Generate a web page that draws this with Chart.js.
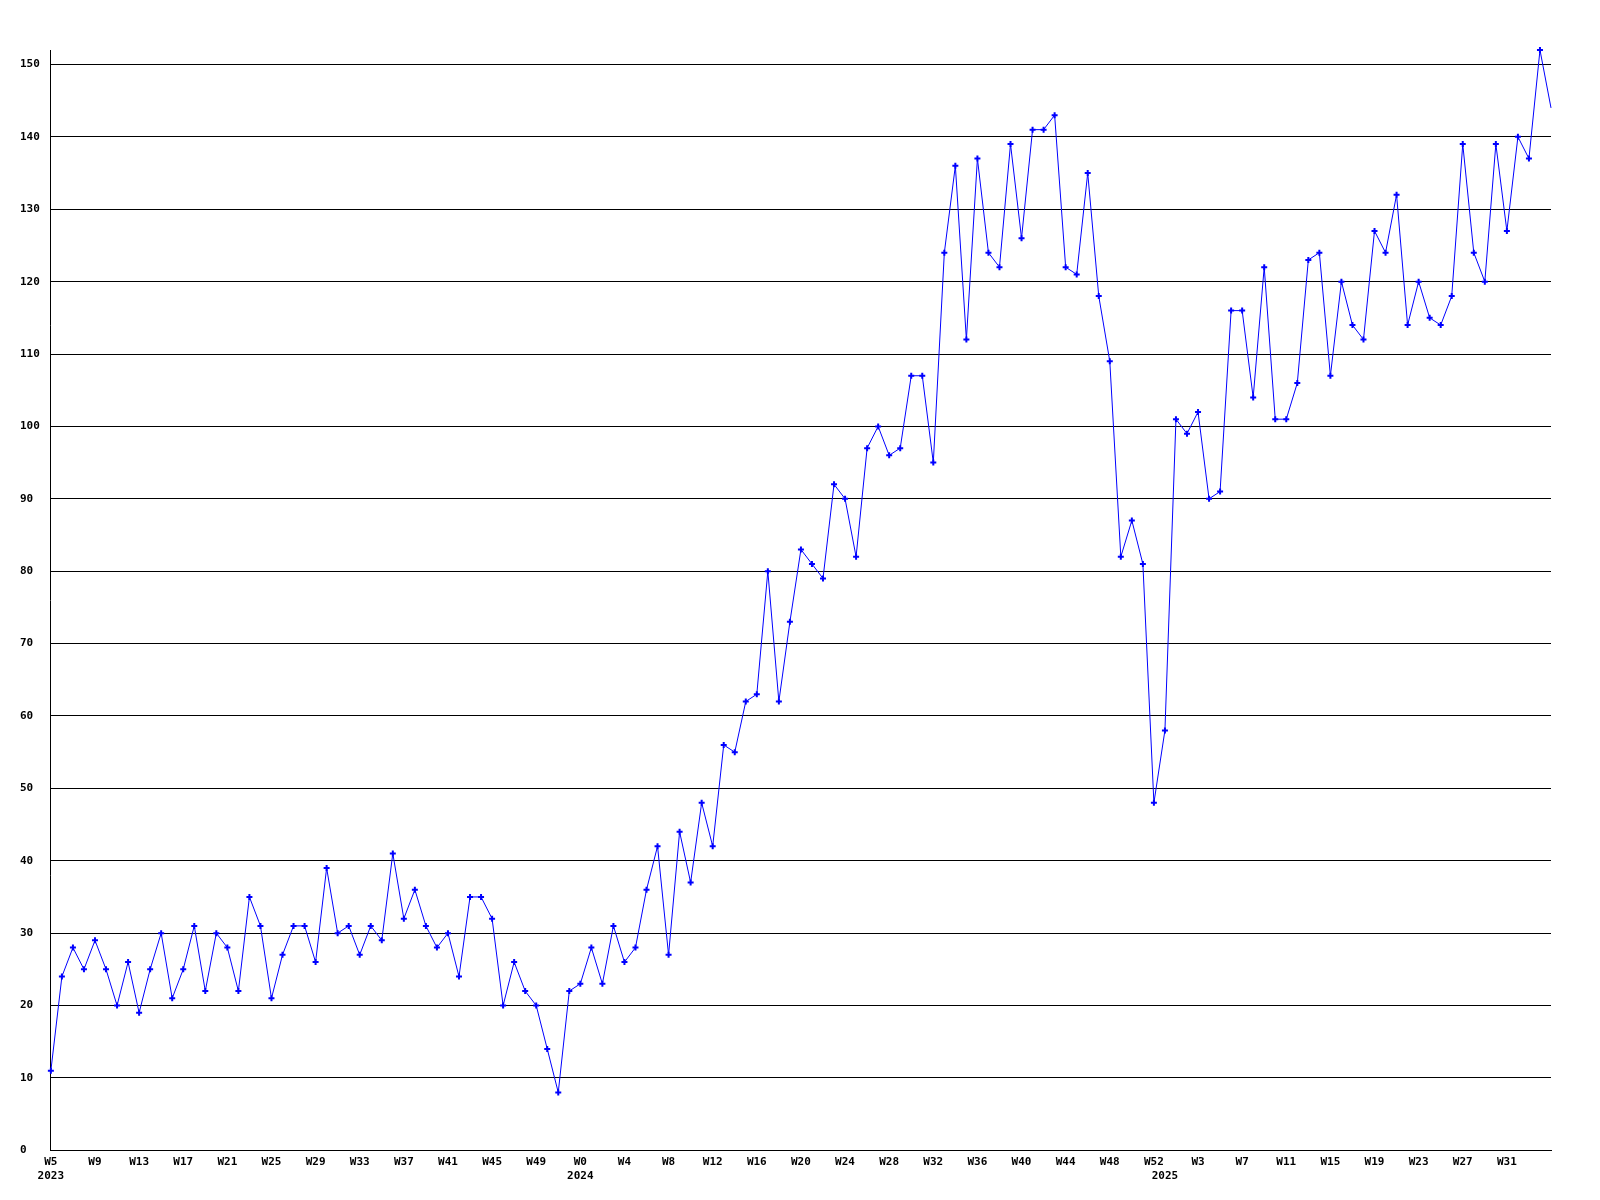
<!DOCTYPE html>
<html>
<head>
<meta charset="utf-8">
<script src="https://cdn.jsdelivr.net/npm/chart.js@4.4.1/dist/chart.umd.min.js"></script>
<style>
    html, body { margin: 0; padding: 0; background: #fff; }
    #box { width: 1600px; height: 1200px; }
</style>
</head>
<body>
<div id="box"><canvas id="chart"></canvas></div>
<script>
// year, first week, last week shown on the axis
const yearSpans = [[2023, 5, 52], [2024, 0, 52], [2025, 0, 35]];

const counts = [
    11, 24, 28, 25, 29, 25, 20, 26, 19, 25, 30, 21, 25, 31, 22, 30, 28, 22, 35, 31,
    21, 27, 31, 31, 26, 39, 30, 31, 27, 31, 29, 41, 32, 36, 31, 28, 30, 24, 35, 35,
    32, 20, 26, 22, 20, 14, 8, 22, 23, 28, 23, 31, 26, 28, 36, 42, 27, 44, 37, 48,
    42, 56, 55, 62, 63, 80, 62, 73, 83, 81, 79, 92, 90, 82, 97, 100, 96, 97, 107, 107,
    95, 124, 136, 112, 137, 124, 122, 139, 126, 141, 141, 143, 122, 121, 135, 118, 109, 82, 87, 81,
    48, 58, 101, 99, 102, 90, 91, 116, 116, 104, 122, 101, 101, 106, 123, 124, 107, 120, 114, 112,
    127, 124, 132, 114, 120, 115, 114, 118, 139, 124, 120, 139, 127, 140, 137, 152, 144
];

const yTicks = [0, 10, 20, 30, 40, 50, 60, 70, 80, 90, 100, 110, 120, 130, 140, 150];

const weekLabels = [];
const yearOf = [];
for (const [year, from, to] of yearSpans) {
    for (let w = from; w <= to; w++) {
        weekLabels.push("W" + w);
        yearOf.push(year);
    }
}

const font = { family: "'DejaVu Sans Mono', monospace", size: 11, weight: "bold", lineHeight: 1.35 };
const lastIndex = counts.length - 1;

const chart = new Chart(document.getElementById("chart"), {
    type: "line",
    data: {
        labels: weekLabels,
        datasets: [{
            data: counts,
            borderColor: "#0000ff",
            backgroundColor: "#0000ff",
            borderWidth: 1,
            tension: 0,
            clip: false,
            pointStyle: "cross",
            pointRadius: (c) => c.dataIndex === lastIndex ? 0 : 3,
            pointBorderWidth: 2,
            pointBorderColor: "#0000ff",
        }],
    },
    options: {
        responsive: true,
        maintainAspectRatio: false,
        animation: false,
        events: [],
        layout: { padding: { left: 20, top: 50, right: 49, bottom: 12 } },
        plugins: { legend: { display: false }, tooltip: { enabled: false } },
        scales: {
            x: {
                offset: false,
                grid: { display: false, drawTicks: false },
                border: { color: "#000", width: 1 },
                ticks: {
                    color: "#000",
                    font: font,
                    autoSkip: false,
                    maxRotation: 0,
                    padding: 4,
                    callback: (v, i) => {
                        const firstOfYear = i === 0 || yearOf[i] !== yearOf[i - 1];
                        const week = (i % 4 === 0 && i !== lastIndex) ? weekLabels[i] : "";
                        if (firstOfYear) return [week, String(yearOf[i])];
                        return week;
                    },
                },
            },
            y: {
                min: 0,
                max: 152,
                grid: { color: "#000", lineWidth: 1, drawTicks: false },
                border: { color: "#000", width: 1 },
                afterBuildTicks: (scale) => {
                    scale.ticks = yTicks.map(v => ({ value: v }));
                },
                ticks: {
                    color: "#000",
                    font: font,
                    crossAlign: "far",
                    padding: 5.5,
                },
            },
        },
    },
});
</script>
</body>
</html>
